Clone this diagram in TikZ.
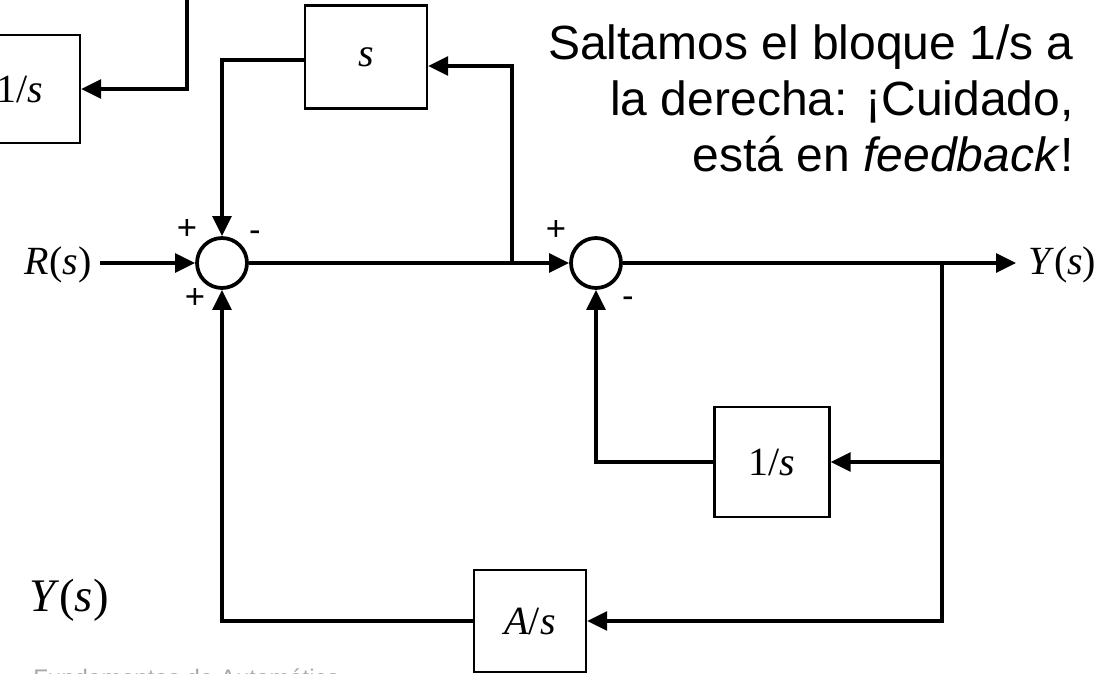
\documentclass[tikz,border=0pt]{standalone}
\usepackage{fontspec}
\setmainfont{Liberation Serif}
\newfontfamily\arial{Liberation Sans}
\usetikzlibrary{arrows.meta,calc}
\begin{document}
\begin{tikzpicture}[x=0.75pt,y=-0.75pt,
  blockbox/.style={draw,line width=1.8pt,inner sep=0pt,font=\fontsize{30}{32}\selectfont},
  sumnode/.style={circle,draw,line width=2.8pt,minimum size=37.5pt,inner sep=0pt},
  wire/.style={line width=2.8pt},
  arr/.style={wire,-{Triangle[length=15pt,width=14pt]}},
  sign/.style={font=\arial\fontsize{26}{26}\selectfont,inner sep=0pt},
  lab/.style={font=\fontsize{30}{32}\selectfont,inner sep=0pt}]
\useasboundingbox (0,0) rectangle (1096,674);
\clip (0,0) rectangle (1096,674);

% summing junctions
\node[sumnode] (s1) at (222,263) {};
\node[sumnode] (s2) at (596,263) {};

% blocks
\node[blockbox,minimum width=91.5pt,minimum height=77pt] (bs) at (366,57) {\textit{s}};
\node[blockbox,minimum width=90pt,minimum height=81pt] (bl) at (20,89) {1/\textit{s}};
\node[blockbox,minimum width=86pt,minimum height=82.5pt] (bi) at (772,462) {1/\textit{s}};
\node[blockbox,minimum width=84pt,minimum height=76.5pt] (ba) at (530,621) {\textit{A}/\textit{s}};

% labels
\node[lab] (rl) at (58,265) {\textit{R}(\textit{s})};
\node[lab,anchor=west] (yl) at (1028,265) {\textit{Y}(\textit{s})};
\node[lab,font=\fontsize{35}{38}\selectfont] (yb) at (69,600) {\textit{Y}(\textit{s})};

% coordinates
\coordinate (top) at (187,-5);
\coordinate (rin) at (100,263);
\coordinate (br1) at (512,263);
\coordinate (br2) at (942,263);
\coordinate (out) at (1016,263);

% wires
\draw[arr] (top) |- (bl.east);
\draw[arr] (rin) -- (s1.west);
\draw[wire] (s1.east) -- (br1);
\draw[arr] (br1) -- (s2.west);
\draw[arr] (br1) |- ($(bs.east)+(0,9)$);
\draw[arr] ($(bs.west)+(0,3)$) -| (s1.north);
\draw[wire] (s2.east) -- (br2);
\draw[arr] (br2) -- (out);
\draw[arr] (br2) |- (bi.east);
\draw[arr] (bi.west) -| (s2.south);
\draw[arr] (br2) |- (ba.east);
\draw[arr] (ba.west) -| (s1.south);

% signs
\node[sign] (p1) at (187,229) {+};
\node[sign] (m1) at (255,236) {-};
\node[sign] (p2) at (195,298) {+};
\node[sign] (p3) at (556,230) {+};
\node[sign] (m2) at (628,302) {-};

% comment text
\node[anchor=north east,align=right,inner sep=0pt,font=\arial\fontsize{36}{42}\selectfont] (txt) at (1074,24)
  {Saltamos el bloque 1/s a\\la derecha: ¡Cuidado,\\está en \textit{feedback}!};

% footer
\node[anchor=base west,inner sep=0pt,text=gray!70,font=\arial\fontsize{18}{20}\selectfont] (foot) at (33,686) {Fundamentos de Automática};
\end{tikzpicture}
\end{document}
